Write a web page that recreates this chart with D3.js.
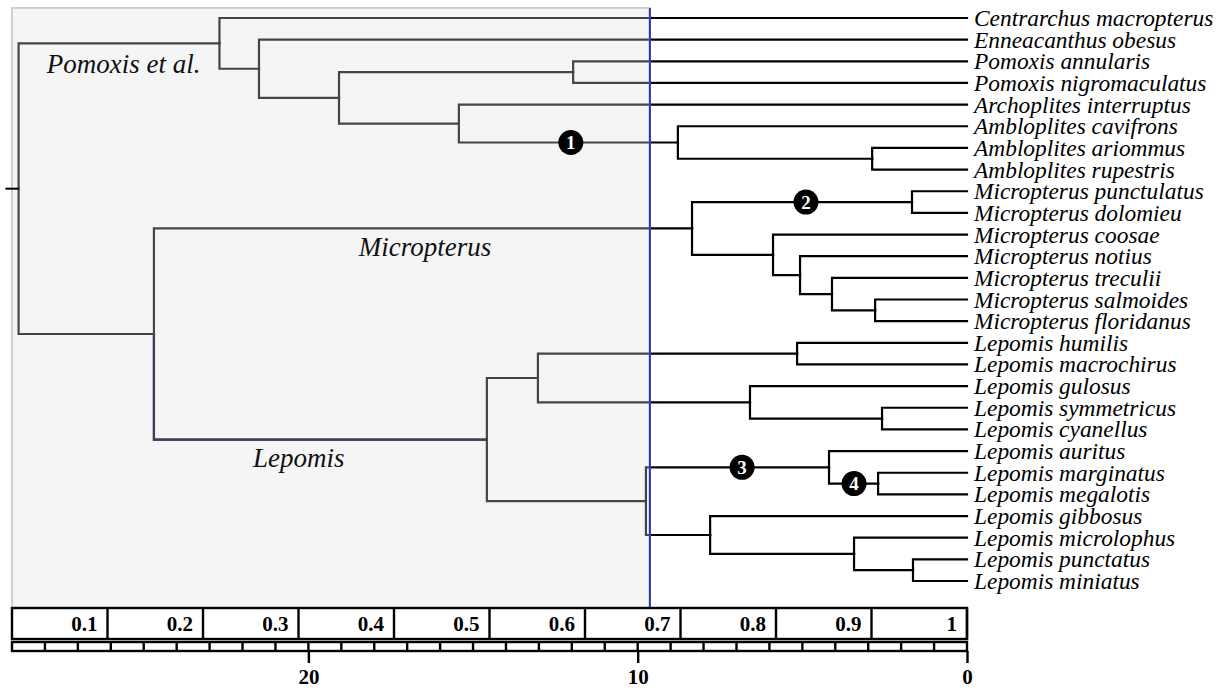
<!DOCTYPE html>
<html>
<head>
<meta charset="utf-8">
<script src="https://cdn.jsdelivr.net/npm/d3@7"></script>
<style>
  body { margin: 0; background: #fff; }
  svg { display: block; }
</style>
</head>
<body>
<script>
// tips, top to bottom
var taxa = [
  "Centrarchus macropterus", "Enneacanthus obesus", "Pomoxis annularis",
  "Pomoxis nigromaculatus", "Archoplites interruptus", "Ambloplites cavifrons",
  "Ambloplites ariommus", "Ambloplites rupestris", "Micropterus punctulatus",
  "Micropterus dolomieu", "Micropterus coosae", "Micropterus notius",
  "Micropterus treculii", "Micropterus salmoides", "Micropterus floridanus",
  "Lepomis humilis", "Lepomis macrochirus", "Lepomis gulosus",
  "Lepomis symmetricus", "Lepomis cyanellus", "Lepomis auritus",
  "Lepomis marginatus", "Lepomis megalotis", "Lepomis gibbosus",
  "Lepomis microlophus", "Lepomis punctatus", "Lepomis miniatus"
];

// internal nodes: id, age (Ma), children
var cladeIds  = ["root","A","A1","A2","Pom","A3","Amb","Amb2","B","Mic","M1","M2","M3","M4","M5","Lep","L1","L1a","L1b","L1c","L2","L3","L3a","L4","L5","L6"];
var cladeAges = [28.8, 22.7, 21.5, 19.07, 11.96, 15.43, 8.78, 2.88, 24.69, 8.35, 1.67, 5.89, 5.07, 4.1, 2.79, 14.58, 13.03, 5.16, 6.59, 2.58, 9.75, 4.19, 2.7, 7.8, 3.43, 1.64];
var cladeKids = [
  ["A","B"], ["Centrarchus macropterus","A1"], ["Enneacanthus obesus","A2"], ["Pom","A3"],
  ["Pomoxis annularis","Pomoxis nigromaculatus"], ["Archoplites interruptus","Amb"],
  ["Ambloplites cavifrons","Amb2"], ["Ambloplites ariommus","Ambloplites rupestris"],
  ["Mic","Lep"], ["M1","M2"], ["Micropterus punctulatus","Micropterus dolomieu"],
  ["Micropterus coosae","M3"], ["Micropterus notius","M4"], ["Micropterus treculii","M5"],
  ["Micropterus salmoides","Micropterus floridanus"], ["L1","L2"], ["L1a","L1b"],
  ["Lepomis humilis","Lepomis macrochirus"], ["Lepomis gulosus","L1c"],
  ["Lepomis symmetricus","Lepomis cyanellus"], ["L3","L4"], ["Lepomis auritus","L3a"],
  ["Lepomis marginatus","Lepomis megalotis"], ["Lepomis gibbosus","L5"],
  ["Lepomis microlophus","L6"], ["Lepomis punctatus","Lepomis miniatus"]
];

// numbered events on branches (branch leading to clade, at age)
var markNums   = ["1","2","3","4"];
var markClades = ["Amb","M1","L3","L3a"];
var markAges   = [12.03, 4.89, 6.83, 3.43];

var cladeNames = ["Pomoxis et al.", "Micropterus", "Lepomis"];
var shadeAge = 9.63;
var rootStem = 0.4;

var propTicks = [0.1,0.2,0.3,0.4,0.5,0.6,0.7,0.8,0.9,1];
var ageTicks  = [20, 10, 0];

var W = 1227, H = 690;
var svg = d3.select("body").append("svg").attr("width", W).attr("height", H);

var x = d3.scaleLinear().domain([29, 0]).range([12, 967]);
var y = d3.scalePoint().domain(taxa).range([18, 581]);
var p = d3.scaleLinear().domain([0, 1]).range([12, 967]);

// build the table for stratify
var table = [];
cladeIds.forEach(function(id, i) {
  table.push({id: id, age: cladeAges[i]});
});
var parentOf = {};
cladeKids.forEach(function(kids, i) {
  kids.forEach(function(k) { parentOf[k] = cladeIds[i]; });
});
table.forEach(function(d) { d.parent = parentOf[d.id] || null; });
taxa.forEach(function(t) { table.push({id: t, age: 0, parent: parentOf[t]}); });

var root = d3.stratify().id(function(d){return d.id;}).parentId(function(d){return d.parent;})(table);
root.eachAfter(function(n) {
  if (!n.children) { n.py = y(n.id); }
  else {
    var kids = cladeKids[cladeIds.indexOf(n.id)];
    n.children.sort(function(a,b){ return kids.indexOf(a.id) - kids.indexOf(b.id); });
    n.py = d3.mean(n.children, function(c){ return c.py; });
  }
  n.px = x(n.data.age);
});
var byId = {};
root.each(function(n){ byId[n.id] = n; });

var g = svg.append("g");

// branches: elbow from parent
g.selectAll("path.branch").data(root.links()).enter().append("path")
  .attr("class", "branch")
  .attr("fill", "none")
  .attr("stroke", "#000")
  .attr("stroke-width", 2.2)
  .attr("stroke-linecap", "square")
  .attr("d", function(l) {
    return "M" + l.source.px + "," + l.source.py + "V" + l.target.py + "H" + l.target.px;
  });

// shaded overlay
svg.append("rect")
  .attr("x", x(29)).attr("y", 8)
  .attr("width", x(shadeAge) - x(29)).attr("height", 600)
  .attr("fill", "rgb(223,223,223)").attr("fill-opacity", 0.31)
  .attr("stroke", "#cfcfcf").attr("stroke-width", 2);

// root stem
svg.append("line")
  .attr("x1", x(root.data.age + rootStem)).attr("x2", root.px)
  .attr("y1", root.py).attr("y2", root.py)
  .attr("stroke", "#000").attr("stroke-width", 2);

// Lepomis stem highlight
var lep = byId["Lep"];
svg.append("path")
  .attr("fill", "none").attr("stroke", "#3a3f5c").attr("stroke-width", 2.2)
  .attr("d", "M" + lep.parent.px + "," + (lep.parent.py + 1) + "V" + lep.py + "H" + lep.px);

// blue line
svg.append("line")
  .attr("x1", x(shadeAge)).attr("x2", x(shadeAge))
  .attr("y1", 8).attr("y2", 607)
  .attr("stroke", "#2435b4").attr("stroke-width", 2);

// clade labels
var serif = "'Liberation Serif', 'Times New Roman', serif";
var cl = svg.append("g").attr("font-family", serif).attr("font-style", "italic")
  .attr("font-size", 27).attr("fill", "#111");
cl.append("text").attr("x", byId["A"].px - 19).attr("y", byId["A"].py + 30)
  .attr("text-anchor", "end").text(cladeNames[0]);
cl.append("text").attr("x", (byId["B"].px + byId["Mic"].px) / 2 + 2).attr("y", byId["Mic"].py + 28)
  .attr("text-anchor", "middle").text(cladeNames[1]);
cl.append("text").attr("x", byId["B"].px + 99).attr("y", lep.py + 27)
  .text(cladeNames[2]);

// markers
var marks = svg.append("g").selectAll("g").data(markNums).enter().append("g")
  .attr("transform", function(d, i) {
    return "translate(" + x(markAges[i]) + "," + byId[markClades[i]].py + ")";
  });
marks.append("circle").attr("r", 12.5).attr("fill", "#000");
marks.append("text")
  .attr("text-anchor", "middle").attr("y", 6.5)
  .attr("font-family", serif).attr("font-weight", "bold").attr("font-size", 19)
  .attr("fill", "#fff").text(function(d){ return d; });

// tip labels
svg.append("g").selectAll("text").data(taxa).enter().append("text")
  .attr("x", x(0) + 7).attr("y", function(d){ return y(d) + 8; })
  .attr("font-family", serif).attr("font-style", "italic").attr("font-size", 23.4)
  .attr("fill", "#000").text(function(d){ return d; });

// proportion bar
var bar = svg.append("g");
bar.append("rect").attr("x", p(0)).attr("y", 608).attr("width", p(1) - p(0)).attr("height", 31)
  .attr("fill", "#fff").attr("stroke", "#000").attr("stroke-width", 2.4);
bar.selectAll("line").data(propTicks).enter().append("line")
  .attr("x1", function(d){ return p(d); }).attr("x2", function(d){ return p(d); })
  .attr("y1", 608).attr("y2", 639).attr("stroke", "#000").attr("stroke-width", 2.4);
bar.selectAll("text").data(propTicks).enter().append("text")
  .attr("x", function(d){ return p(d) - 10; }).attr("y", 631)
  .attr("text-anchor", "end")
  .attr("font-family", serif).attr("font-weight", "bold").attr("font-size", 21)
  .text(function(d){ return d; });

// time scale row
var row = svg.append("g");
row.append("rect").attr("x", x(29)).attr("y", 642).attr("width", x(0) - x(29)).attr("height", 9)
  .attr("fill", "#fff").attr("stroke", "#000").attr("stroke-width", 2.4);
row.selectAll("line").data(d3.range(1, 29)).enter().append("line")
  .attr("x1", function(d){ return x(d); }).attr("x2", function(d){ return x(d); })
  .attr("y1", 642).attr("y2", 651).attr("stroke", "#000").attr("stroke-width", 2.4);

var axis = d3.axisBottom(x).tickValues(ageTicks).tickSize(12).tickPadding(6);
var ax = svg.append("g").attr("transform", "translate(0,651)").call(axis);
ax.select(".domain").remove();
ax.selectAll(".tick line").attr("stroke", "#000").attr("stroke-width", 2.4);
ax.selectAll(".tick text").attr("font-family", serif).attr("font-weight", "bold")
  .attr("font-size", 21).attr("fill", "#000");
</script>
</body>
</html>
